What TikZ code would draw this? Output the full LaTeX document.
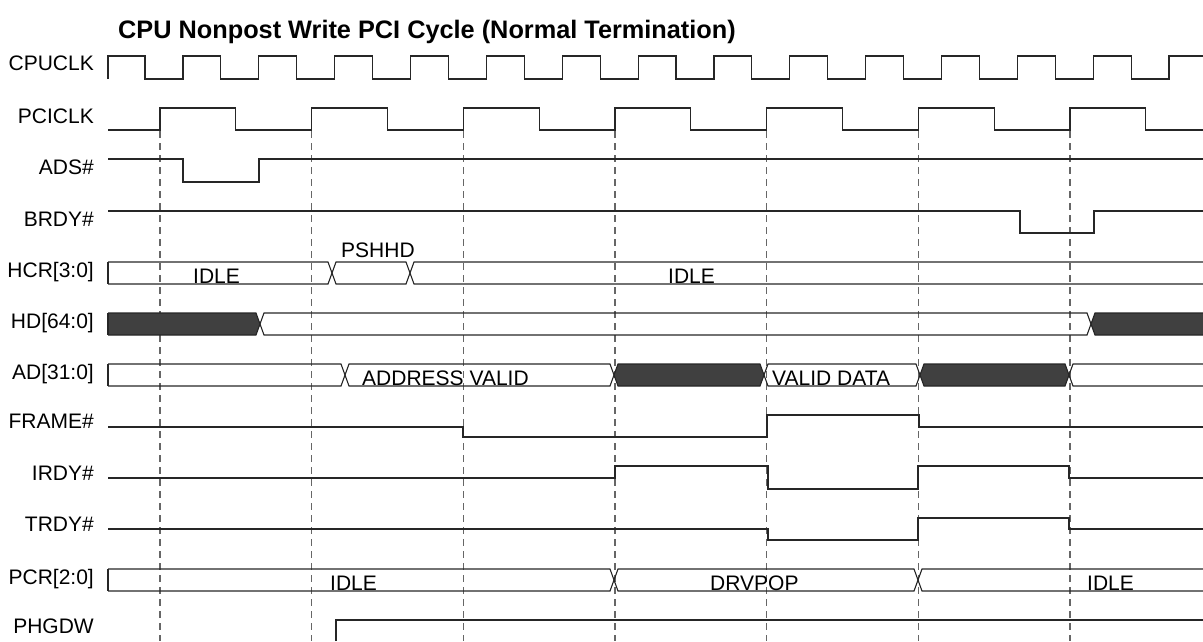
\documentclass[tikz,border=0pt]{standalone}
\usepackage{fontspec}
\setmainfont{Liberation Sans}
\begin{document}
\begin{tikzpicture}[x=1pt,y=-1pt,
  wave/.style={draw=black!85,line width=1.1pt,line join=miter},
  clockguide/.style={draw=black!60,line width=1.1pt,dash pattern=on 7pt off 5pt},
  busfill/.style={fill=black!75,draw=none},
  siglabel/.style={anchor=base east,inner sep=0pt,font=\fontsize{21}{25}\selectfont},
  buslabel/.style={anchor=base west,inner sep=0pt,font=\fontsize{21}{25}\selectfont},
  titletext/.style={anchor=base west,inner sep=0pt,font=\fontsize{25.3}{30}\selectfont\bfseries}]
\useasboundingbox (0,0) rectangle (1203,641);

% title
\node[titletext] (title) at (118,38) {CPU Nonpost Write PCI Cycle (Normal Termination)};

% signal names
\node[siglabel] (lcpuclk) at (94,70)  {CPUCLK};
\node[siglabel] (lpciclk) at (94,123) {PCICLK};
\node[siglabel] (lads)    at (94,174) {ADS\#};
\node[siglabel] (lbrdy)   at (94,226) {BRDY\#};
\node[siglabel] (lhcr)    at (94,277) {HCR[3:0]};
\node[siglabel] (lhd)     at (94,328) {HD[64:0]};
\node[siglabel] (lad)     at (94,379) {AD[31:0]};
\node[siglabel] (lframe)  at (94,428) {FRAME\#};
\node[siglabel] (lirdy)   at (94,480) {IRDY\#};
\node[siglabel] (ltrdy)   at (94,531) {TRDY\#};
\node[siglabel] (lpcr)    at (94,584) {PCR[2:0]};
\node[siglabel] (lphgdw)  at (94,633) {PHGDW};

% guide lines on the PCI clock rising edges
\foreach \k in {0,...,6}
  \draw[clockguide] ({160+151.67*\k},131) -- ({160+151.67*\k},641);

% CPUCLK
\draw[wave] (108,79) -- (108,56) -- (145,56) -- (145,79)
  \foreach \k in {0,...,12} {
    -- ({183+75.85*\k},79) -- ({183+75.85*\k},56)
    -- ({220.9+75.85*\k},56) -- ({220.9+75.85*\k},79) }
  -- (1169,79) -- (1169,56) -- (1203,56);

% PCICLK
\draw[wave] (108,130)
  \foreach \k in {0,...,6} {
    -- ({160+151.67*\k},130) -- ({160+151.67*\k},108)
    -- ({235.9+151.67*\k},108) -- ({235.9+151.67*\k},130) }
  -- (1203,130);

% ADS#, BRDY#
\draw[wave] (108,159) -- (183,159) -- (183,182) -- (259,182) -- (259,159) -- (1203,159);
\draw[wave] (108,211) -- (1020,211) -- (1020,233) -- (1094,233) -- (1094,211) -- (1203,211);

% HCR[3:0]
\draw[wave] (108,262) -- (108,284);
\draw[wave] (108,262) -- (328,262) -- (336,284) -- (406,284) -- (414,262) -- (1203,262);
\draw[wave] (108,284) -- (328,284) -- (336,262) -- (406,262) -- (414,284) -- (1203,284);
\node[buslabel] (hcridle) at (193,283) {IDLE};
\node[buslabel] (hcrpsh)  at (341,257) {PSHHD};
\node[buslabel] (hcridleb) at (668,283) {IDLE};

% HD[64:0]
\fill[busfill] (108,313) -- (256,313) -- (260,324) -- (256,335) -- (108,335) -- cycle;
\fill[busfill] (1203,313) -- (1095,313) -- (1091,324) -- (1095,335) -- (1203,335) -- cycle;
\draw[wave] (108,313) -- (108,335);
\draw[wave] (108,313) -- (256,313) -- (264,335) -- (1087,335) -- (1095,313) -- (1203,313);
\draw[wave] (108,335) -- (256,335) -- (264,313) -- (1087,313) -- (1095,335) -- (1203,335);

% AD[31:0]
\fill[busfill] (618,364) -- (760,364) -- (764,375) -- (760,386) -- (618,386) -- (614,375) -- cycle;
\fill[busfill] (924,364) -- (1065,364) -- (1069,375) -- (1065,386) -- (924,386) -- (920,375) -- cycle;
\draw[wave] (108,364) -- (108,386);
\draw[wave] (108,364) -- (341,364) -- (349,386) -- (610,386) -- (618,364) -- (760,364) -- (768,386)
  -- (916,386) -- (924,364) -- (1065,364) -- (1073,386) -- (1203,386);
\draw[wave] (108,386) -- (341,386) -- (349,364) -- (610,364) -- (618,386) -- (760,386) -- (768,364)
  -- (916,364) -- (924,386) -- (1065,386) -- (1073,364) -- (1203,364);
\node[buslabel] (adaddr) at (362,385) {ADDRESS VALID};
\node[buslabel] (addata) at (772,385) {VALID DATA};

% FRAME#, IRDY#, TRDY# (middle level = not driven)
\draw[wave] (108,427) -- (463,427) -- (463,437) -- (767,437) -- (767,415) -- (919,415) -- (919,427) -- (1203,427);
\draw[wave] (108,478) -- (615,478) -- (615,466) -- (768,466) -- (768,489) -- (918,489) -- (918,466)
  -- (1069,466) -- (1069,478) -- (1203,478);
\draw[wave] (108,529) -- (768,529) -- (768,540) -- (918,540) -- (918,518) -- (1069,518) -- (1069,529) -- (1203,529);

% PCR[2:0]
\draw[wave] (108,569) -- (108,591);
\draw[wave] (108,569) -- (610,569) -- (618,591) -- (914,591) -- (922,569) -- (1203,569);
\draw[wave] (108,591) -- (610,591) -- (618,569) -- (914,569) -- (922,591) -- (1203,591);
\node[buslabel] (pcridle)  at (330,590) {IDLE};
\node[buslabel] (pcrdrv)   at (710,590) {DRVPOP};
\node[buslabel] (pcridleb) at (1087,590) {IDLE};

% PHGDW
\draw[wave] (336,641) -- (336,620) -- (1203,620);
\end{tikzpicture}
\end{document}
